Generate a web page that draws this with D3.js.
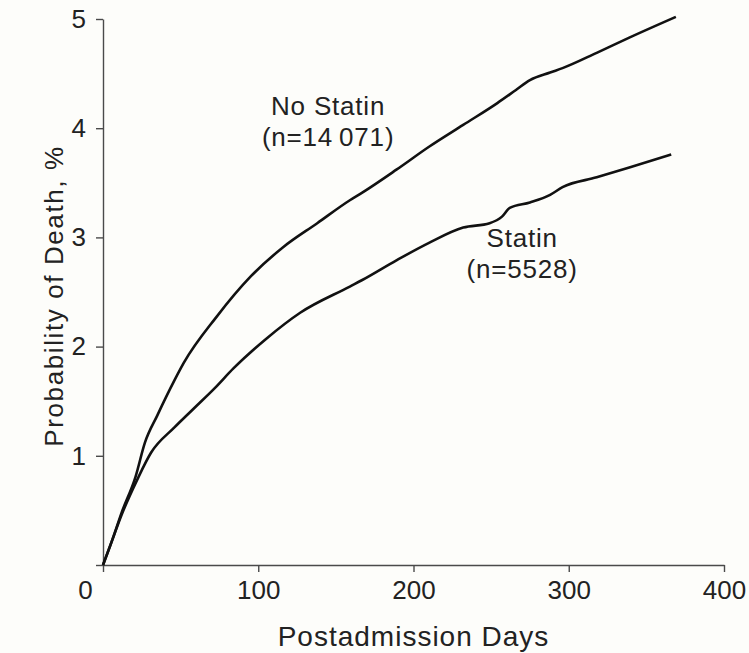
<!DOCTYPE html>
<html>
<head>
<meta charset="utf-8">
<script src="https://cdn.jsdelivr.net/npm/d3@7"></script>
<style>
  body { margin: 0; background: #fdfdfa; }
  svg { display: block; font-family: "Liberation Sans", Arial, sans-serif; }
</style>
</head>
<body>
<div id="container"></div>
<script>
// Chart size and plot area
const width = 749;
const height = 653;
const marginLeft = 103;
const marginRight = 25;
const marginTop = 19;
const marginBottom = 88;

// Data: days after admission and probability of death (%)
const noStatinDays = [0, 6, 12, 21, 27, 35, 46, 52, 73, 95, 116, 138, 159, 167, 189, 210, 232, 254, 266, 275, 288, 296, 318, 339, 369];
const noStatinValues = [0, 0.23, 0.48, 0.81, 1.12, 1.37, 1.69, 1.85, 2.27, 2.64, 2.91, 3.13, 3.34, 3.41, 3.62, 3.83, 4.03, 4.23, 4.35, 4.44, 4.51, 4.55, 4.69, 4.83, 5.02];

const statinDays = [0, 6, 12, 22, 31, 46, 59, 72, 84, 105, 127, 159, 167, 189, 210, 232, 249, 257, 262, 275, 288, 296, 318, 339, 366];
const statinValues = [0, 0.23, 0.46, 0.78, 1.03, 1.26, 1.44, 1.62, 1.80, 2.07, 2.31, 2.55, 2.61, 2.79, 2.95, 3.09, 3.13, 3.19, 3.27, 3.32, 3.39, 3.46, 3.55, 3.64, 3.76];

const xTicks = [0, 100, 200, 300, 400];
const yTicks = [0, 1, 2, 3, 4, 5];

const labels = [
  {name: "No Statin", n: "(n=14\u2009071)", day: 145, value: 4.12},
  {name: "Statin", n: "(n=5528)", day: 270, value: 2.91}
];

const x = d3.scaleLinear()
  .domain([0, 400])
  .range([marginLeft, width - marginRight]);

const y = d3.scaleLinear()
  .domain([0, 5])
  .range([height - marginBottom, marginTop]);

const svg = d3.select("#container").append("svg")
  .attr("width", width)
  .attr("height", height);

const axisColor = "#4a4a4a";

// x axis
const gx = svg.append("g")
  .attr("transform", `translate(0,${y(0)})`)
  .call(d3.axisBottom(x).tickValues(xTicks).tickSize(7).tickSizeOuter(0).tickPadding(9));

// y axis
const gy = svg.append("g")
  .attr("transform", `translate(${x(0)},0)`)
  .call(d3.axisLeft(y).tickValues(yTicks).tickFormat(d3.format("d")).tickSize(7).tickSizeOuter(0).tickPadding(10));

[gx, gy].forEach(g => {
  g.select(".domain").attr("stroke", axisColor).attr("stroke-width", 1.4);
  g.selectAll(".tick line").attr("stroke", axisColor).attr("stroke-width", 1.4);
  g.selectAll(".tick text")
    .attr("fill", "#222")
    .style("font-size", "26px")
    .style("font-family", "Liberation Sans, Arial, sans-serif");
});

// shared "0" sits at the corner, below and left of the origin
gy.selectAll(".tick").filter(d => d === 0).select("text").remove();
gx.selectAll(".tick").filter(d => d === 0).select("text").attr("dx", -18);

// Axis titles
svg.append("text")
  .attr("x", x(200))
  .attr("y", 646)
  .attr("text-anchor", "middle")
  .attr("fill", "#222")
  .style("font-size", "28px")
  .style("letter-spacing", "1px")
  .text("Postadmission Days");

svg.append("text")
  .attr("transform", `translate(63,296) rotate(-90)`)
  .attr("text-anchor", "middle")
  .attr("fill", "#222")
  .style("font-size", "26px")
  .style("letter-spacing", "1.6px")
  .text("Probability of Death, %");

// Curves
const line = d3.line()
  .x(d => x(d[0]))
  .y(d => y(d[1]))
  .curve(d3.curveMonotoneX);

const series = [
  d3.zip(noStatinDays, noStatinValues),
  d3.zip(statinDays, statinValues)
];

svg.selectAll(".curve")
  .data(series)
  .join("path")
    .attr("class", "curve")
    .attr("fill", "none")
    .attr("stroke", "#111")
    .attr("stroke-width", 2.6)
    .attr("stroke-linejoin", "round")
    .attr("d", line);

// Curve labels
const lab = svg.selectAll(".label")
  .data(labels)
  .join("text")
    .attr("class", "label")
    .attr("text-anchor", "middle")
    .attr("fill", "#222")
    .style("font-size", "26px")
    .style("letter-spacing", "0.8px")
    .attr("x", d => x(d.day))
    .attr("y", d => y(d.value));

lab.append("tspan").text(d => d.name);
lab.append("tspan")
  .attr("x", d => x(d.day))
  .attr("dy", 31)
  .text(d => d.n);
</script>
</body>
</html>
